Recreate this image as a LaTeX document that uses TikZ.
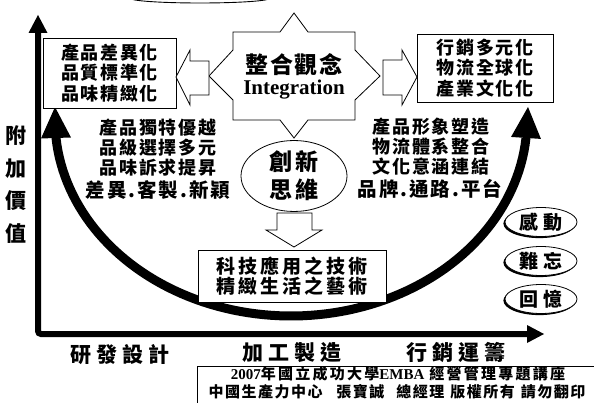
\documentclass[tikz,border=0pt]{standalone}
\usepackage{fontspec}
\setmainfont{Liberation Serif}
\newfontfamily\cjk{Noto Sans CJK TC}
\usetikzlibrary{shapes.geometric,arrows.meta,shadows}
\newcommand\cjt[3]{\cjk\bfseries\fontsize{#1}{#3}\selectfont\addfontfeature{LetterSpace=#2}}
\begin{document}
\begin{tikzpicture}[x=1pt,y=-1pt,
  box/.style={draw, line width=0.8pt, fill=white, inner sep=0pt, align=center},
  blockarrow/.style={draw, line width=0.8pt, fill=white, line join=miter},
  lbl/.style={inner sep=0pt, align=center},
  oval/.style={ellipse, draw, line width=0.8pt, fill=white, inner sep=0pt, align=center},
  shoval/.style={oval, drop shadow={shadow xshift=-1.6pt, shadow yshift=-1.6pt, fill=black, opacity=1}},
  thickarrow/.style={line width=9pt, {Triangle[width=30pt,length=31pt,line width=0pt]}-{Triangle[width=30pt,length=31pt,line width=0pt]}},
  axis/.style={line width=6pt, rounded corners=3pt, {Triangle[width=19pt,length=18pt,line width=0pt]}-{Triangle[width=18pt,length=17pt,line width=0pt]}}
]
\useasboundingbox (0,0) rectangle (594,403);
\fill[white] (0,0) rectangle (594,403);

% partial oval at the top
\draw[line width=0.9pt] (200,-1.8) ellipse [x radius=70, y radius=4.8];

% axes
\coordinate (ytop) at (38,15);
\coordinate (origin) at (38,334);
\coordinate (xend) at (544,334);
\draw[axis] (ytop) -- (origin) -- (xend);

% big U-shaped arrow
\coordinate (ltip) at (55,107);
\coordinate (rtip) at (528,107);
\draw[thickarrow] (ltip) -- plot[domain=0:1, samples=90] ({291+236*cos(174.7-169.4*\x)},{120+196*sin(174.7-169.4*\x)}) -- (rtip);

% boxes
\node[box, minimum width=133pt, minimum height=70pt, font=\cjt{18}{9}{20.5}] (lbox) at (109.5,73) {產品差異化\\品質標準化\\品味精緻化};
\node[box, minimum width=136pt, minimum height=68pt, font=\cjt{18}{9}{20.5}] (rbox) at (485,68) {行銷多元化\\物流全球化\\產業文化化};

% star
\draw[blockarrow] (294,13) -- (280,32) -- (233,32) -- (233,50) -- (209,76) -- (233,100) -- (233,120) -- (280,120) -- (294,138) -- (308,120) -- (355,120) -- (355,100) -- (380,76) -- (355,50) -- (355,32) -- (308,32) -- cycle;
\node[lbl, font=\cjt{23}{6}{23}] (zh) at (294,65) {整合觀念};
\node[lbl, font=\bfseries\fontsize{21}{21}\selectfont] (en) at (294,90) {Integration};

% block arrows
\draw[blockarrow] (176,77) -- (190,50) -- (190,61) -- (209,61) -- (209,95) -- (190,95) -- (190,105) -- cycle;
\draw[blockarrow] (417,77) -- (402,50) -- (402,60) -- (383,60) -- (383,95) -- (402,95) -- (402,105) -- cycle;

% innovation oval
\node[oval, minimum width=106pt, minimum height=66pt, font=\cjt{23}{17}{28}] (idea) at (294,176) {創新\\思維};
\draw[blockarrow] (294,247) -- (266,230) -- (277,230) -- (277,213) -- (312,213) -- (312,230) -- (322,230) -- cycle;

% bottom box
\node[box, minimum width=188pt, minimum height=52pt, font=\cjt{19}{15}{20}] (bbox) at (292,276) {科技應用之技術\\精緻生活之藝術};

% middle texts
\node[lbl, font=\cjt{18}{11}{20}] (lmid) at (158,148) {產品獨特優越\\品級選擇多元\\品味訴求提昇};
\node[lbl, font=\cjt{19.5}{10}{20}] (lmid2) at (158,190) {差異.客製.新穎};
\node[lbl, font=\cjt{18}{11}{20}] (rmid) at (431,147) {產品形象塑造\\物流體系整合\\文化意涵連結};
\node[lbl, font=\cjt{19.5}{10}{20}] (rmid2) at (430,189) {品牌.通路.平台};

% axis labels
\node[lbl, font=\cjt{21}{0}{32.5}] (ylab) at (16,184.5) {附\\加\\價\\值};
\node[lbl, font=\cjt{21}{24}{21}] (x1) at (120,355) {研發設計};
\node[lbl, font=\cjt{21}{24}{21}] (x2) at (292,353) {加工製造};
\node[lbl, font=\cjt{21}{24}{21}] (x3) at (456,353) {行銷運籌};

% ovals right
\node[shoval, minimum width=72pt, minimum height=29pt, font=\cjt{19}{25}{19}] (o1) at (541,222) {感動};
\node[shoval, minimum width=72pt, minimum height=29pt, font=\cjt{19}{25}{19}] (o2) at (541,261) {難忘};
\node[shoval, minimum width=72pt, minimum height=29pt, font=\cjt{19}{25}{19}] (o3) at (541,299) {回憶};

% footer
\node[box, minimum width=400pt, minimum height=39pt, anchor=north west] (foot) at (197,366) {};
\node[lbl] (f1) at (398,374) {{\bfseries\fontsize{15}{15}\selectfont 2007}{\cjt{15}{15}{15}年國立成功大學}{\bfseries\fontsize{15}{15}\selectfont EMBA}\hspace{5pt}{\cjt{15}{15}{15}經營管理專題講座}};
\node[lbl] (f2) at (397,392) {\cjt{15}{10}{15}中國生產力中心\hspace{14pt}張寶誠\hspace{12pt}總經理\hspace{6pt}版權所有\hspace{6pt}請勿翻印};
\end{tikzpicture}
\end{document}
